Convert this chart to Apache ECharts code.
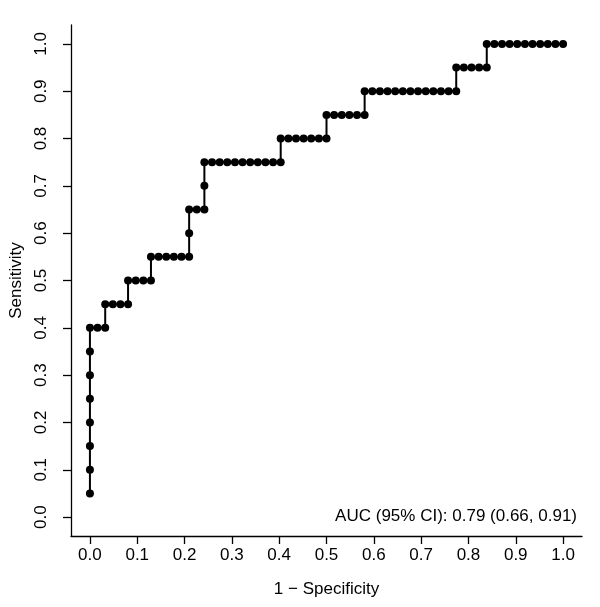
<!DOCTYPE html>
<html>
<head>
<meta charset="utf-8">
<script src="https://cdn.jsdelivr.net/npm/echarts@6/dist/echarts.min.js"></script>
<style>
html,body{margin:0;padding:0;background:#fff;}
#chart{width:600px;height:607px;}
</style>
</head>
<body>
<div id="chart"></div>
<script>
// 1 - Specificity (false positive rate) of each ROC point
const fpr = [
  0, 0, 0, 0, 0, 0, 0, 0,
  0.0161, 0.0323,
  0.0323, 0.0484, 0.0645, 0.0806,
  0.0806, 0.0968, 0.1129, 0.1290,
  0.1290, 0.1452, 0.1613, 0.1774, 0.1935, 0.2097,
  0.2097, 0.2097, 0.2258, 0.2419,
  0.2419, 0.2419, 0.2581, 0.2742, 0.2903, 0.3065, 0.3226, 0.3387, 0.3548, 0.3710, 0.3871, 0.4032,
  0.4032, 0.4194, 0.4355, 0.4516, 0.4677, 0.4839, 0.5000,
  0.5000, 0.5161, 0.5323, 0.5484, 0.5645, 0.5806,
  0.5806, 0.5968, 0.6129, 0.6290, 0.6452, 0.6613, 0.6774, 0.6935, 0.7097, 0.7258, 0.7419, 0.7581, 0.7742,
  0.7742, 0.7903, 0.8065, 0.8226, 0.8387,
  0.8387, 0.8548, 0.8710, 0.8871, 0.9032, 0.9194, 0.9355, 0.9516, 0.9677, 0.9839, 1.0000
];
// Sensitivity (true positive rate) of each ROC point
const tpr = [
  0.05, 0.10, 0.15, 0.20, 0.25, 0.30, 0.35, 0.40,
  0.40, 0.40,
  0.45, 0.45, 0.45, 0.45,
  0.50, 0.50, 0.50, 0.50,
  0.55, 0.55, 0.55, 0.55, 0.55, 0.55,
  0.60, 0.65, 0.65, 0.65,
  0.70, 0.75, 0.75, 0.75, 0.75, 0.75, 0.75, 0.75, 0.75, 0.75, 0.75, 0.75,
  0.80, 0.80, 0.80, 0.80, 0.80, 0.80, 0.80,
  0.85, 0.85, 0.85, 0.85, 0.85, 0.85,
  0.90, 0.90, 0.90, 0.90, 0.90, 0.90, 0.90, 0.90, 0.90, 0.90, 0.90, 0.90, 0.90,
  0.95, 0.95, 0.95, 0.95, 0.95,
  1.00, 1.00, 1.00, 1.00, 1.00, 1.00, 1.00, 1.00, 1.00, 1.00, 1.00
];
const tickValues = [0, 0.1, 0.2, 0.3, 0.4, 0.5, 0.6, 0.7, 0.8, 0.9, 1.0];
const xTitle = '1 \u2212 Specificity';
const yTitle = 'Sensitivity';
const aucText = 'AUC (95% CI): 0.79 (0.66, 0.91)';

const FONT = '"Liberation Sans", Arial, Helvetica, sans-serif';
const points = fpr.map((x, i) => [x, tpr[i]]);

const chart = echarts.init(document.getElementById('chart'), null, {renderer: 'canvas'});
const axisCommon = {
  type: 'value',
  min: -0.04,
  max: 1.04,
  axisLine: {show: true, onZero: false, lineStyle: {color: '#000', width: 1.3}},
  axisTick: {show: true, inside: false, length: 8, customValues: tickValues, lineStyle: {color: '#000', width: 1.3}},
  axisLabel: {
    customValues: tickValues,
    color: '#000', fontFamily: FONT, fontSize: 17,
    formatter: v => v.toFixed(1)
  },
  splitLine: {show: false},
  nameLocation: 'middle',
  nameTextStyle: {color: '#000', fontFamily: FONT, fontSize: 17}
};
chart.setOption({
  animation: false,
  backgroundColor: '#fff',
  grid: {left: 71, right: 18, top: 25, bottom: 71, containLabel: false, outerBoundsMode: 'none'},
  xAxis: Object.assign({}, axisCommon, {
    name: xTitle, nameGap: 45,
    axisLabel: Object.assign({}, axisCommon.axisLabel, {margin: 11})
  }),
  yAxis: Object.assign({}, axisCommon, {
    name: yTitle, nameGap: 45, nameRotate: 90,
    axisLabel: Object.assign({}, axisCommon.axisLabel, {margin: 21, rotate: 90})
  }),
  graphic: [{
    type: 'text',
    right: 23,
    top: 508,
    style: {text: aucText, fill: '#000', font: '17px ' + FONT}
  }],
  series: [{
    type: 'line',
    data: points,
    step: false,
    symbol: 'circle',
    symbolSize: 8,
    showAllSymbol: true,
    lineStyle: {color: '#000', width: 2},
    itemStyle: {color: '#000', borderWidth: 0}
  }]
});
</script>
</body>
</html>
